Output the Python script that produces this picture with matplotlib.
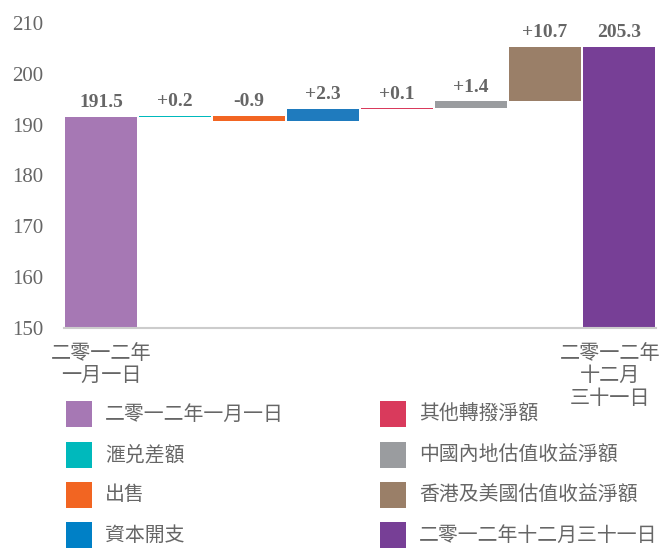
import matplotlib
matplotlib.use("Agg")
import matplotlib.pyplot as plt
import matplotlib.transforms as mtransforms
from matplotlib.patches import Rectangle

# ---- data ----
legend_labels = ["二零一二年一月一日", "滙兑差額", "出售", "資本開支",
                 "其他轉撥淨額", "中國內地估值收益淨額", "香港及美國估值收益淨額", "二零一二年十二月三十一日"]
start_value = 191.5
changes = [0.2, -0.9, 2.3, 0.1, 1.4, 10.7]
end_value = 205.3
value_labels = ["191.5", "+0.2", "-0.9", "+2.3", "+0.1", "+1.4", "+10.7", "205.3"]
colors = ["#A678B4", "#00B9BC", "#F26522", "#1F7BBE", "#D93A5C", "#9A9C9F", "#9A7F68", "#773F96"]
legend_colors = ["#A678B4", "#00B9BC", "#F26522", "#0080C6", "#D93A5C", "#9A9C9F", "#9A7F68", "#773F96"]
xtick_labels = ["二零一二年\n一月一日", "二零一二年\n十二月\n三十一日"]
yticks = [150, 160, 170, 180, 190, 200, 210]

CJK = ["Noto Sans CJK TC", "DejaVu Sans"]
NUM = ["Liberation Serif", "DejaVu Serif"]
GRAY = "#666666"

fig = plt.figure(figsize=(6.62, 5.49), dpi=100)
ax = fig.add_axes([64 / 662, 1 - 328 / 549, 592 / 662, 305 / 549])

base = 150
bottoms, heights = [], []
bottoms.append(base); heights.append(start_value - base)
level = start_value
for c in changes:
    lo = min(level, level + c)
    bottoms.append(lo); heights.append(abs(c))
    level += c
bottoms.append(base); heights.append(end_value - base)

x = list(range(len(heights)))
ax.bar(x, heights, bottom=bottoms, width=0.96, color=colors, linewidth=0)

for xi, b, h, lab in zip(x, bottoms, heights, value_labels):
    ax.annotate(lab, (xi, b + h), xytext=(0, 4), textcoords="offset points",
                ha="center", va="bottom", fontsize=14, fontweight="bold",
                family=NUM, color=GRAY, annotation_clip=False)

ax.set_xlim(-0.5, 7.5)
ax.set_ylim(150, 210)
ax.set_yticks(yticks)
ax.set_yticklabels([str(t) for t in yticks], family=NUM, fontsize=15, color=GRAY)
ax.set_xticks([0, 7])
ax.set_xticklabels(xtick_labels, family=CJK, fontsize=14.5, color=GRAY, linespacing=1.07)
ax.tick_params(axis="both", length=0)
ax.tick_params(axis="y", pad=15)
ax.tick_params(axis="x", pad=11)
last = ax.get_xticklabels()[-1]
last.set_transform(last.get_transform() + mtransforms.ScaledTranslation(-9 / 100, 0, fig.dpi_scale_trans))

for s in ["top", "right", "left"]:
    ax.spines[s].set_visible(False)
ax.spines["bottom"].set_color("#CCCCCC")
ax.spines["bottom"].set_linewidth(1.5)

# legend (two columns, manual)
W, H = 662, 549
rows_y = [414, 455, 495, 535]
col_x = [66, 380]
for i, (lab, col) in enumerate(zip(legend_labels, legend_colors)):
    cx = col_x[i // 4]
    cy = rows_y[i % 4]
    fig.patches.append(Rectangle((cx / W, 1 - (cy + 13) / H), 26 / W, 26 / H,
                                 transform=fig.transFigure, color=col, linewidth=0))
    fig.text((cx + 39) / W, 1 - cy / H, lab, family=CJK, fontsize=14.3, color=GRAY,
             ha="left", va="center")

fig.savefig("out.png", dpi=100)
